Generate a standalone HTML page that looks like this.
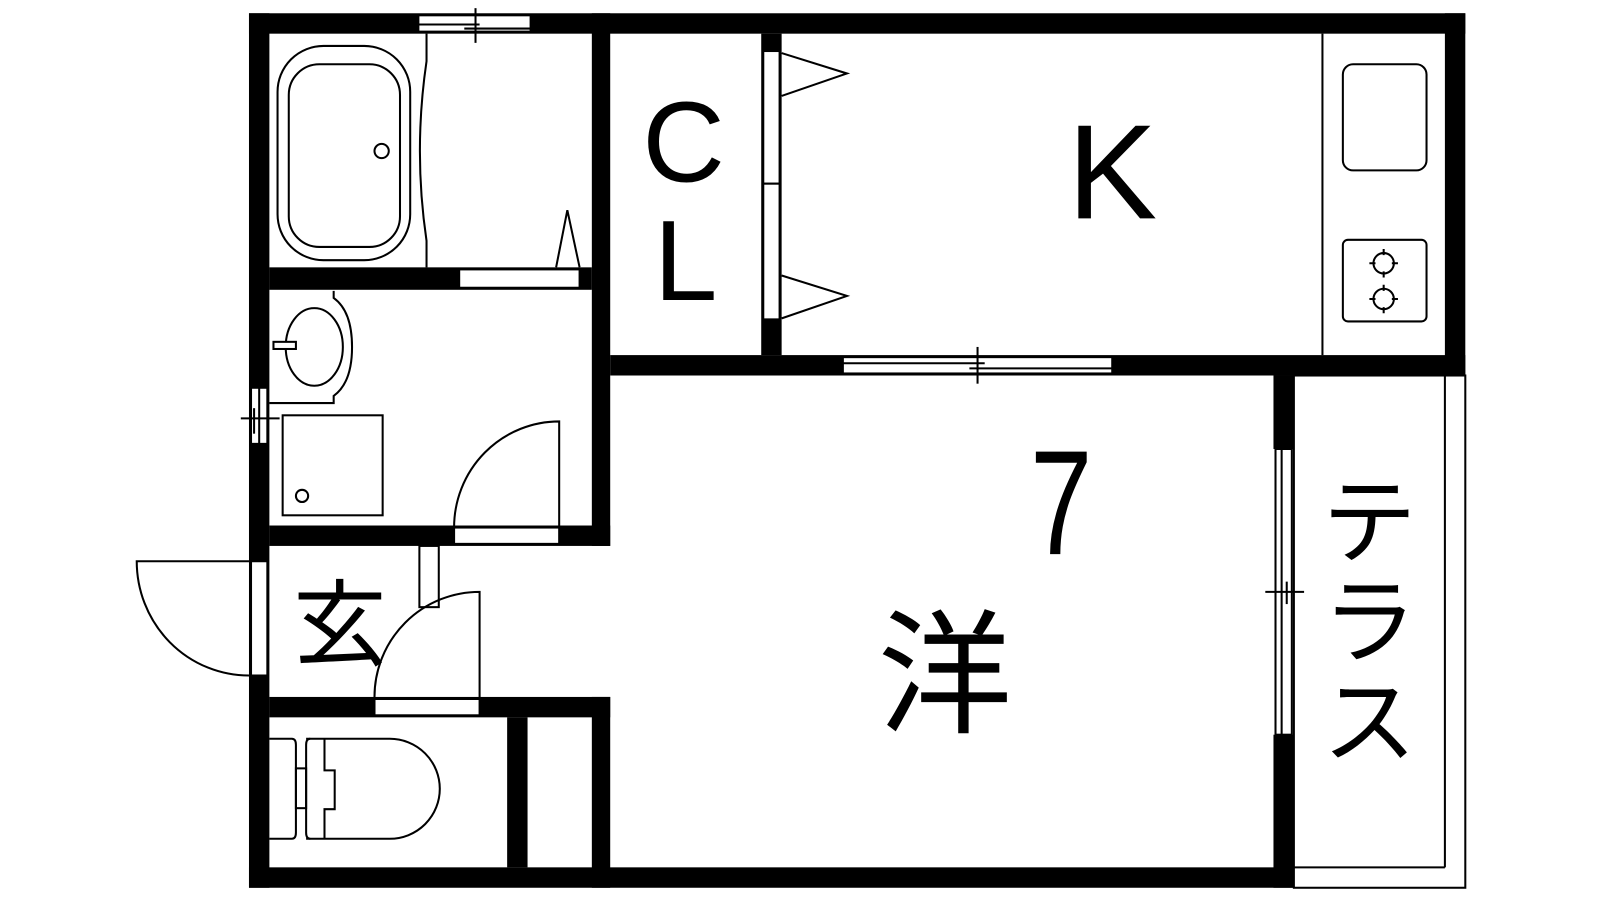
<!DOCTYPE html>
<html><head><meta charset="utf-8"><style>html,body{margin:0;padding:0;background:#fff;width:1600px;height:900px;overflow:hidden}svg{display:block}</style></head><body>
<svg width="1600" height="900" viewBox="0 0 1568 882" preserveAspectRatio="none" xmlns="http://www.w3.org/2000/svg">
<rect width="1568" height="882" fill="#fff"/>
<g fill="#000">
<rect x="244" y="13" width="1192" height="20"/>
<rect x="244" y="13" width="20" height="857"/>
<rect x="244" y="850" width="1024" height="20"/>
<rect x="1416" y="13" width="20" height="355"/>
<rect x="598" y="348" width="838" height="20"/>
<rect x="580" y="13" width="18" height="522"/>
<rect x="580" y="683" width="18" height="187"/>
<rect x="264" y="262" width="316" height="22"/>
<rect x="264" y="515" width="334" height="20"/>
<rect x="264" y="683" width="334" height="20"/>
<rect x="497" y="703" width="20" height="147"/>
<rect x="746" y="33" width="20" height="315"/>
<rect x="1248" y="368" width="20" height="72"/>
<rect x="1248" y="720" width="20" height="150"/>
</g>
<g fill="#fff" stroke="#000" stroke-width="2">
<rect x="410" y="15" width="110" height="16"/>
<rect x="450" y="264" width="118" height="18"/>
<rect x="445" y="517" width="103" height="16"/>
<rect x="367" y="685" width="103" height="16"/>
<rect x="246" y="550" width="16" height="112"/>
<rect x="246" y="380" width="16" height="55"/>
<rect x="748" y="50" width="16" height="130"/>
<rect x="748" y="180" width="16" height="133"/>
<rect x="826" y="350" width="264" height="16"/>
<rect x="1250" y="440" width="16" height="280"/>
</g>
<g fill="none" stroke="#000" stroke-width="2">
<line x1="410" y1="24" x2="470" y2="24"/><line x1="455" y1="28" x2="520" y2="28"/><line x1="466" y1="8" x2="466" y2="42"/>
<line x1="826" y1="356" x2="965" y2="356"/><line x1="950" y1="361" x2="1090" y2="361"/><line x1="958" y1="340" x2="958" y2="376"/>
<line x1="254" y1="380" x2="254" y2="435"/><line x1="236" y1="410" x2="274" y2="410"/><line x1="249" y1="400" x2="249" y2="425"/>
<line x1="1256" y1="440" x2="1256" y2="720"/><line x1="1240" y1="580" x2="1278" y2="580"/><line x1="1261" y1="570" x2="1261" y2="592"/>
<polyline points="766,52 830,72 766,94"/>
<polyline points="766,270 830,290 766,312"/>
<rect x="272" y="45" width="130" height="210" rx="45"/>
<rect x="283" y="63" width="109" height="179" rx="30"/>
<circle cx="374" cy="148" r="7"/>
<path d="M418,33 V60 Q405,148 418,236 V262"/>
<polyline points="545,262 556,206 568,262"/>
<path d="M327,285 V292 Q345,305 345,340 Q345,375 327,388 V395 H264"/>
<ellipse cx="308" cy="340" rx="28" ry="38"/>
<rect x="268" y="335" width="22" height="7" fill="#fff"/>
<rect x="277" y="407" width="98" height="98"/>
<circle cx="296" cy="486" r="6"/>
<path d="M548,517 V413 A103,104 0 0 0 445,517"/>
<path d="M244,550 H134 A110,112 0 0 0 244,662"/>
<rect x="411" y="535" width="19" height="60"/>
<path d="M470,683 V580 A103,103 0 0 0 367,683"/>
<path d="M264,724 H286 Q290,724 290,730 V816 Q290,822 286,822 H264"/>
<rect x="290" y="753" width="10" height="39"/>
<path d="M304,724 Q300,724 300,730 V816 Q300,822 304,822"/>
<path d="M300,724 H382 A49,49 0 0 1 431,773 A49,49 0 0 1 382,822 H300"/>
<polyline points="318,724 318,755 328,755 328,793 318,793 318,822"/>
<line x1="1296" y1="33" x2="1296" y2="348"/>
<rect x="1316" y="63" width="82" height="104" rx="10"/>
<rect x="1316" y="235" width="82" height="80" rx="5"/>
<circle cx="1356" cy="258" r="10"/><circle cx="1356" cy="293" r="10"/>
<path d="M1356,244v6M1356,266v6M1342,258h6M1364,258h6M1356,279v6M1356,301v6M1342,293h6M1364,293h6"/>
<rect x="1268" y="368" width="168" height="502"/>
<line x1="1416" y1="368" x2="1416" y2="850"/>
<line x1="1268" y1="850" x2="1416" y2="850"/>
</g>
<g font-family="'Liberation Sans','Noto Sans CJK JP',sans-serif" text-anchor="middle" fill="#000">
<text x="670" y="178" font-size="112">C</text>
<text x="672" y="294" font-size="112">L</text>
<text x="1090" y="214" font-size="132">K</text>
<text x="0" y="543" font-size="146" transform="translate(1040,0) scale(0.75,1)">7</text>
<text x="926" y="708" font-size="132">洋</text>
<text x="333" y="645" font-size="92">玄</text>
<text x="1342" y="544" font-size="92">テ</text>
<text x="1342" y="642" font-size="92">ラ</text>
<text x="1342" y="740" font-size="92">ス</text>
</g>
</svg>
</body></html>
